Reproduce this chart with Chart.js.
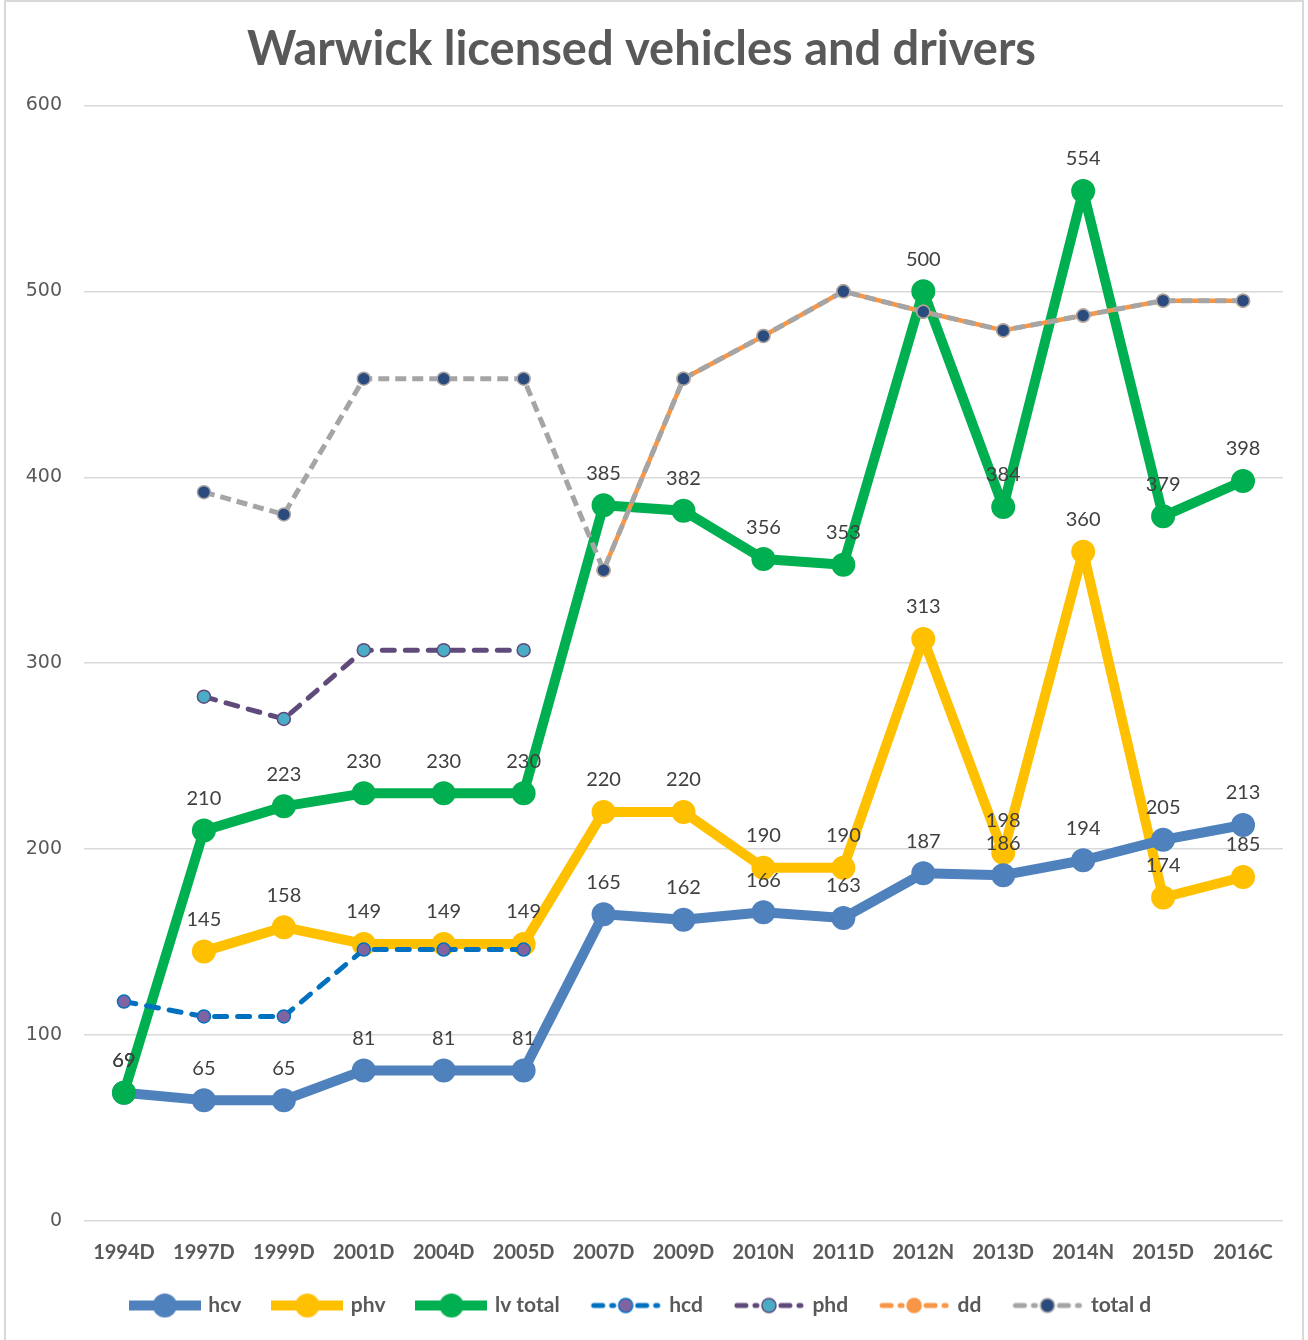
<!DOCTYPE html>
<html>
<head>
<meta charset="utf-8">
<script src="https://cdn.jsdelivr.net/npm/chart.js@4.4.1/dist/chart.umd.min.js"></script>
<style>
  html, body { margin: 0; padding: 0; background: #fff; }
  #wrap { position: relative; width: 1308px; height: 1340px; }
</style>
</head>
<body>
<div id="wrap"><canvas id="chart" width="1308" height="1340"></canvas></div>
<script>
// categories and series
const categories = ['1994D', '1997D', '1999D', '2001D', '2004D', '2005D', '2007D', '2009D', '2010N', '2011D', '2012N', '2013D', '2014N', '2015D', '2016C'];
const hcv = [69, 65, 65, 81, 81, 81, 165, 162, 166, 163, 187, 186, 194, 205, 213];
const phv = [null, 145, 158, 149, 149, 149, 220, 220, 190, 190, 313, 198, 360, 174, 185];
const lvTotal = [69, 210, 223, 230, 230, 230, 385, 382, 356, 353, 500, 384, 554, 379, 398];
const hcd = [118, 110, 110, 146, 146, 146, null, null, null, null, null, null, null, null, null];
const phd = [null, 282, 270, 307, 307, 307, null, null, null, null, null, null, null, null, null];
const dd = [null, null, null, null, null, null, 350, 453, 476, 500, 489, 479, 487, 495, 495];
const totalD = [null, 392, 380, 453, 453, 453, 350, 453, 476, 500, 489, 479, 487, 495, 495];
const yTicks = [0, 100, 200, 300, 400, 500, 600];

const LABEL_FONT = 'Lato, "Open Sans", sans-serif';

// legend symbol: line with marker in the middle
function makeSymbol(lineColor, markerColor, thick, dash) {
    const c = document.createElement('canvas');
    c.width = 72; c.height = 28;
    const g = c.getContext('2d');
    g.strokeStyle = lineColor;
    g.lineCap = thick ? 'butt' : 'round';
    g.lineWidth = thick ? 10 : 5;
    if (dash) {
        g.setLineDash([9, 9]);
        g.beginPath(); g.moveTo(4, 14); g.lineTo(24, 14); g.stroke();
        g.beginPath(); g.moveTo(48, 14); g.lineTo(68, 14); g.stroke();
    } else {
        g.beginPath(); g.moveTo(0, 14); g.lineTo(72, 14); g.stroke();
    }
    g.setLineDash([]);
    g.beginPath();
    g.arc(36, 14, thick ? 12 : 7, 0, Math.PI * 2);
    g.fillStyle = markerColor;
    g.fill();
    if (!thick) { g.lineWidth = 1.5; g.strokeStyle = lineColor; g.stroke(); }
    return c;
}

function solidSet(label, data, color, order) {
    return {
        label, data, order,
        borderColor: color, backgroundColor: color,
        borderWidth: 10, borderJoinStyle: 'round',
        pointRadius: 11, pointBorderWidth: 2,
        pointBackgroundColor: color, pointBorderColor: color,
        showValues: true,
        symbol: makeSymbol(color, color, true, false)
    };
}

function dashSet(label, data, lineColor, markerColor, order, dash) {
    return {
        label, data, order,
        borderColor: lineColor, backgroundColor: markerColor,
        borderWidth: 5, borderDash: dash, borderCapStyle: 'round', borderJoinStyle: 'round',
        pointRadius: 6.5, pointBorderWidth: 1.5,
        pointBackgroundColor: markerColor, pointBorderColor: lineColor,
        symbol: makeSymbol(lineColor, markerColor, false, true)
    };
}

const datasets = [
    solidSet('hcv', hcv, '#4F81BD', 6),
    solidSet('phv', phv, '#FFC000', 7),
    solidSet('lv total', lvTotal, '#00B050', 5),
    dashSet('hcd', hcd, '#0070C0', '#8064A2', 4, [12, 11]),
    dashSet('phd', phd, '#604A7B', '#4BACC6', 3, [12, 11]),
    dashSet('dd', dd, '#F79646', '#F79646', 2, []),
    dashSet('total d', totalD, '#A5A5A5', '#2B4A7E', 1, [11, 6])
];
datasets[6].borderCapStyle = 'butt';
datasets[5].borderWidth = 4.5;

// value labels above the solid series
const valueLabels = {
    id: 'valueLabels',
    afterDatasetsDraw(chart) {
        const ctx = chart.ctx;
        ctx.save();
        ctx.font = '20px ' + LABEL_FONT;
        ctx.fillStyle = '#404040';
        ctx.textAlign = 'center';
        ctx.textBaseline = 'middle';
        chart.data.datasets.forEach((ds, i) => {
            if (!ds.showValues) return;
            const meta = chart.getDatasetMeta(i);
            meta.data.forEach((pt, j) => {
                const v = ds.data[j];
                if (v === null || v === undefined) return;
                ctx.fillText(String(v), pt.x, pt.y - 32);
            });
        });
        ctx.restore();
    }
};

const frame = {
    id: 'frame',
    afterDraw(chart) {
        const ctx = chart.ctx;
        ctx.save();
        ctx.strokeStyle = '#D9D9D9';
        ctx.lineWidth = 2;
        ctx.strokeRect(5, 1, 1298, 1360);
        ctx.restore();
    }
};

new Chart(document.getElementById('chart'), {
    type: 'line',
    data: { labels: categories, datasets },
    plugins: [valueLabels, frame],
    options: {
        responsive: false,
        animation: false,
        layout: { padding: { top: 0, left: 0, right: 25, bottom: 14 } },
        plugins: {
            tooltip: { enabled: false },
            title: {
                display: true,
                text: 'Warwick licensed vehicles and drivers',
                color: '#595959',
                font: { family: LABEL_FONT, size: 47, weight: 'bold', lineHeight: 1.2 },
                padding: { top: 22, bottom: 27 }
            },
            legend: {
                position: 'bottom',
                labels: {
                    usePointStyle: true,
                    pointStyleWidth: 66,
                    padding: 33,
                    color: '#595959',
                    font: { family: LABEL_FONT, size: 21, weight: 'bold' },
                    generateLabels(chart) {
                        return chart.data.datasets.map((ds, i) => ({
                            text: ds.label,
                            pointStyle: ds.symbol,
                            fontColor: '#595959',
                            lineWidth: 0,
                            strokeStyle: 'transparent',
                            fillStyle: 'transparent',
                            hidden: false,
                            datasetIndex: i
                        }));
                    }
                }
            }
        },
        scales: {
            x: {
                offset: true,
                grid: { display: false, offset: true },
                border: { display: false },
                ticks: {
                    color: '#595959',
                    font: { family: LABEL_FONT, size: 20, weight: 'bold' },
                    padding: 12,
                    maxRotation: 0,
                    autoSkip: false
                },
                afterFit(scale) { scale.height = 41; }
            },
            y: {
                min: 0,
                max: 600,
                afterBuildTicks(scale) { scale.ticks = yTicks.map(v => ({ value: v })); },
                grid: { color: '#D9D9D9', lineWidth: 1.5, drawTicks: false },
                border: { display: false },
                ticks: {
                    color: '#595959',
                    font: { family: '"DejaVu Sans", Verdana, sans-serif', size: 19 },
                    padding: 22
                },
                afterFit(scale) { scale.width = 84; }
            }
        }
    }
});
</script>
</body>
</html>
